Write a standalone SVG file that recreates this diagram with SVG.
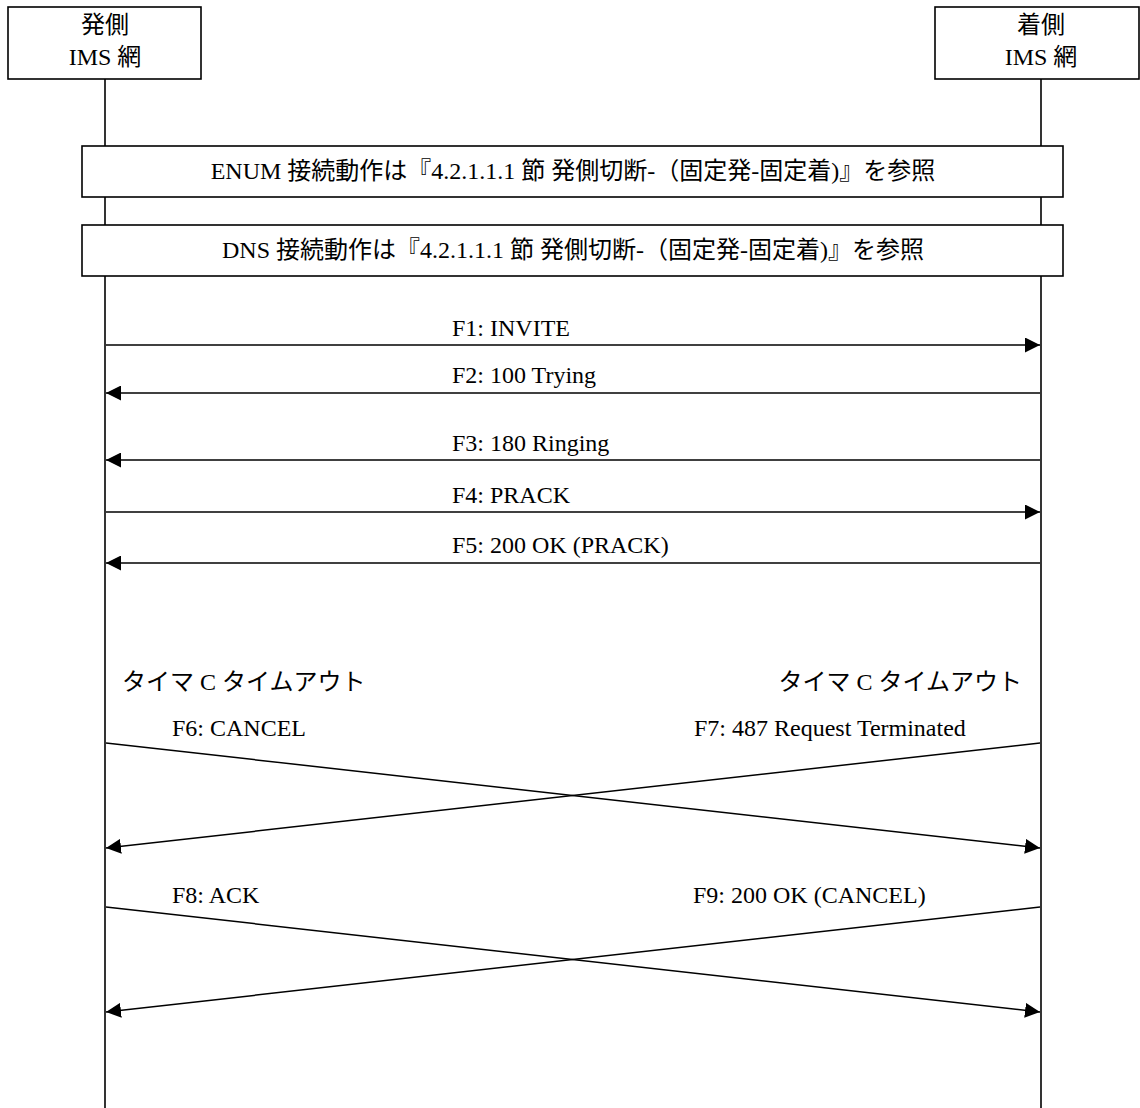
<svg xmlns="http://www.w3.org/2000/svg" width="1140" height="1108" viewBox="0 0 1140 1108">
<style>
  text { font-family: "Liberation Serif", "Noto Sans CJK JP", serif; font-size: 24px; fill: #000; }
  .c { text-anchor: middle; }
  .e { text-anchor: end; }
  .box { fill: #fff; stroke: #000; stroke-width: 1.6; }
  .life { stroke: #000; stroke-width: 1.6; fill: none; }
  .msg { stroke: #000; stroke-width: 1.5; fill: none; marker-end: url(#ah); }
</style>
<defs>
  <marker id="ah" markerUnits="userSpaceOnUse" markerWidth="15" markerHeight="15" refX="15" refY="7.5" orient="auto">
    <path d="M0,0 L15,7.5 L0,15 z" fill="#000"/>
  </marker>
</defs>
<rect width="1140" height="1108" fill="#fff"/>
<g id="lifelines">
  <line class="life" x1="105" y1="79" x2="105" y2="1108"/>
  <line class="life" x1="1041" y1="79" x2="1041" y2="1108"/>
</g>
<g id="node-orig">
  <rect class="box" x="8" y="7" width="193" height="72"/>
  <text class="c" x="105" y="33">発側</text>
  <text class="c" x="105" y="65">IMS 網</text>
</g>
<g id="node-term">
  <rect class="box" x="935" y="7" width="204" height="72"/>
  <text class="c" x="1041" y="33">着側</text>
  <text class="c" x="1041" y="65">IMS 網</text>
</g>
<g id="note-enum">
  <rect class="box" x="82" y="146" width="981" height="51"/>
  <text class="c" x="573" y="179">ENUM 接続動作は『4.2.1.1.1 節 発側切断-（固定発-固定着)』を参照</text>
</g>
<g id="note-dns">
  <rect class="box" x="82" y="225" width="981" height="51"/>
  <text class="c" x="573" y="258">DNS 接続動作は『4.2.1.1.1 節 発側切断-（固定発-固定着)』を参照</text>
</g>
<g id="timer-left">
  <text x="122" y="690">タイマ C タイムアウト</text>
</g>
<g id="timer-right">
  <text class="e" x="1022" y="690">タイマ C タイムアウト</text>
</g>
<g id="connectors">
  <line class="msg" x1="106" y1="345" x2="1040" y2="345"/>
  <line class="msg" x1="1040" y1="393" x2="106" y2="393"/>
  <line class="msg" x1="1040" y1="460" x2="106" y2="460"/>
  <line class="msg" x1="106" y1="512" x2="1040" y2="512"/>
  <line class="msg" x1="1040" y1="563" x2="106" y2="563"/>
  <line class="msg" x1="106" y1="743" x2="1040" y2="848"/>
  <line class="msg" x1="1040" y1="743" x2="106" y2="848"/>
  <line class="msg" x1="106" y1="907" x2="1040" y2="1012"/>
  <line class="msg" x1="1040" y1="907" x2="106" y2="1012"/>
</g>
<g id="labels">
  <text x="452" y="336">F1: INVITE</text>
  <text x="452" y="383">F2: 100 Trying</text>
  <text x="452" y="451">F3: 180 Ringing</text>
  <text x="452" y="503">F4: PRACK</text>
  <text x="452" y="553">F5: 200 OK (PRACK)</text>
  <text x="172" y="736">F6: CANCEL</text>
  <text x="694" y="736">F7: 487 Request Terminated</text>
  <text x="172" y="903">F8: ACK</text>
  <text x="693" y="903">F9: 200 OK (CANCEL)</text>
</g>
</svg>
